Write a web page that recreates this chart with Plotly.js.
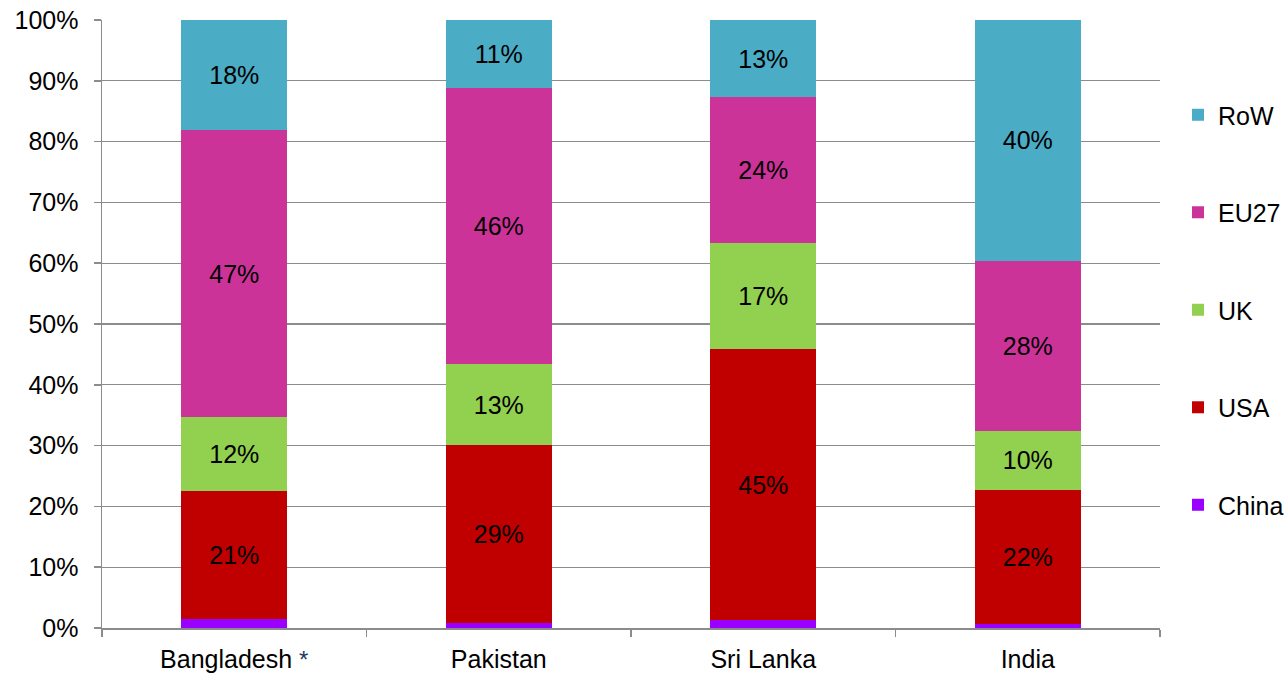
<!DOCTYPE html>
<html>
<head>
<meta charset="utf-8">
<script src="https://cdn.plot.ly/plotly-3.0.1.min.js"></script>
<style>html,body{margin:0;padding:0;background:#fff;}#chart{width:1287px;height:674px;}</style>
</head>
<body>
<div id="chart"></div>
<script>
const categories = ["Bangladesh <span style='color:#1f3864;font-size:24px'>*</span>", "Pakistan", "Sri Lanka", "India"];
const seriesNames = ["China", "USA", "UK", "EU27", "RoW"];
const china = [1.4, 0.8, 1.3, 0.6];
const usa = [21.1, 29.3, 44.6, 22.1];
const uk = [12.2, 13.3, 17.4, 9.7];
const eu27 = [47.2, 45.4, 24.0, 28.0];
const row = [18.1, 11.2, 12.7, 39.6];
const labels = {
  China: ["", "", "", ""],
  USA: ["21%", "29%", "45%", "22%"],
  UK: ["12%", "13%", "17%", "10%"],
  EU27: ["47%", "46%", "24%", "28%"],
  RoW: ["18%", "11%", "13%", "40%"]
};
const colors = {China: "#9900ff", USA: "#c00000", UK: "#92d050", EU27: "#cc3399", RoW: "#4bacc6"};
const values = {China: china, USA: usa, UK: uk, EU27: eu27, RoW: row};

const FONT = "Liberation Sans, Arial, sans-serif";

const traces = seriesNames.map((name, i) => ({
  type: "bar",
  name: name,
  x: categories,
  y: values[name],
  text: labels[name],
  textposition: "inside",
  insidetextanchor: "middle",
  textfont: {family: FONT, size: 25, color: "#000"},
  constraintext: "none",
  hoverinfo: "skip",
  legendgroup: name,
  legendrank: seriesNames.length - i,
  marker: {color: colors[name], line: {width: 0}}
}));

const layout = {
  width: 1287,
  height: 674,
  barmode: "stack",
  bargap: 0.6,
  margin: {l: 102, r: 127, t: 20, b: 46, autoexpand: false},
  paper_bgcolor: "#fff",
  plot_bgcolor: "#fff",
  font: {family: FONT, size: 25, color: "#000"},
  showlegend: true,
  legend: {
    x: 1.0170, xanchor: "left", y: 0.523, yanchor: "middle",
    traceorder: "grouped",
    tracegroupgap: 62,
    font: {family: FONT, size: 25, color: "#000"},
    bgcolor: "rgba(0,0,0,0)"
  },
  xaxis: {
    type: "category",
    showline: true, linecolor: "#8c8c8c", linewidth: 1.5,
    ticks: "outside", tickson: "boundaries", ticklen: 7, tickcolor: "#8c8c8c", tickwidth: 1.5,
    ticklabelstandoff: 8,
    showgrid: false,
    tickfont: {family: FONT, size: 25, color: "#000"},
    fixedrange: true
  },
  yaxis: {
    range: [0, 100],
    dtick: 10,
    ticksuffix: "%",
    showline: true, linecolor: "#8c8c8c", linewidth: 1.5,
    ticks: "outside", ticklen: 7, tickcolor: "#8c8c8c", tickwidth: 1.5,
    ticklabelstandoff: 10,
    showgrid: true, gridcolor: "#8c8c8c", gridwidth: 1.2,
    zeroline: false,
    tickfont: {family: FONT, size: 25, color: "#000"},
    fixedrange: true
  }
};

Plotly.newPlot("chart", traces, layout, {displayModeBar: false, staticPlot: true});
</script>
</body>
</html>
